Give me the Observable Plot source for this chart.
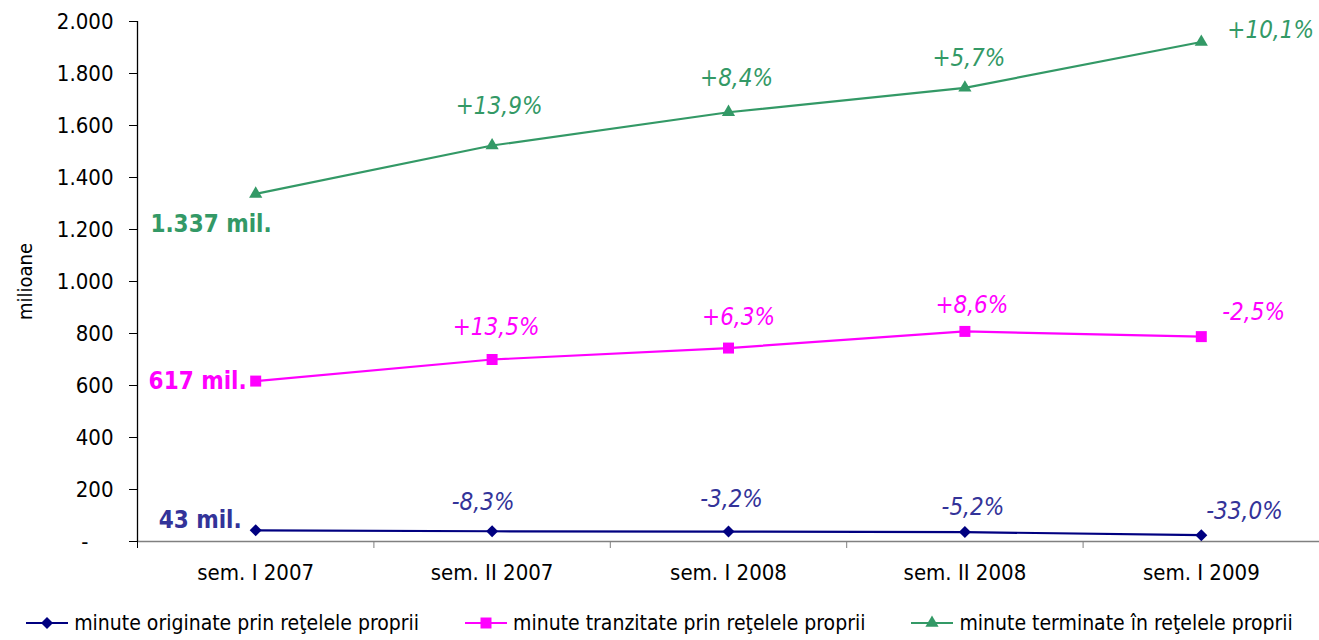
<!DOCTYPE html>
<html><head><meta charset="utf-8">
<script src="https://cdn.jsdelivr.net/npm/d3@7"></script>
<script src="https://cdn.jsdelivr.net/npm/@observablehq/plot@0.6"></script>
<style>
body{margin:0;background:#fff;font-family:"DejaVu Sans Condensed","DejaVu Sans",sans-serif;font-stretch:condensed;color:#000;}
#chart{width:1319px;height:591px;}
#legend{display:flex;justify-content:center;align-items:center;gap:46px;font-size:21px;height:49px;box-sizing:border-box;padding-top:14px;width:1319px;}
.item{display:flex;align-items:center;white-space:nowrap;}
.item svg{margin-right:6px;}
</style></head><body><div id="chart"></div><div id="legend"></div>
<script>
// ---- data ----
const periods = ["sem. I 2007", "sem. II 2007", "sem. I 2008", "sem. II 2008", "sem. I 2009"];
const seriesNames = [
  "minute originate prin reţelele proprii",
  "minute tranzitate prin reţelele proprii",
  "minute terminate în reţelele proprii"
];
const originate = [43, 39.4, 38.2, 36.2, 24.2];
const tranzitate = [617, 700, 744, 808, 788];
const terminate = [1337, 1523, 1651, 1745, 1921];
const pctOriginate = [null, "-8,3%", "-3,2%", "-5,2%", "-33,0%"];
const pctTranzitate = [null, "+13,5%", "+6,3%", "+8,6%", "-2,5%"];
const pctTerminate = [null, "+13,9%", "+8,4%", "+5,7%", "+10,1%"];
const startLabels = ["43 mil.", "617 mil.", "1.337 mil."];
const yTicks = [0, 200, 400, 600, 800, 1000, 1200, 1400, 1600, 1800, 2000];

// ---- style ----
const lineColors = ["#000080", "#FF00FF", "#339966"];
const textColors = ["#333399", "#FF00FF", "#339966"];
const symbols = ["diamond2", "square", "triangle"];
const symR = [5.4, 6.2, 4.9];
const startNudge = [[-14, -10], [-9, 0], [16, 30]];
const pctNudge = [
  [null, [-9, -29], [3, -32], [8, -25], [5, -24]],
  [null, [4, -32], [10, -31], [7, -26], [21, -24]],
  [null, [7, -39], [8, -34], [4, -29], [26, -12]]
];

const seriesValues = [originate, tranzitate, terminate];
const seriesPct = [pctOriginate, pctTranzitate, pctTerminate];
const rows = seriesValues.flatMap((vals, k) =>
  vals.map((v, i) => ({k, i, v, pct: seriesPct[k][i], name: seriesNames[k]})));

const fmtY = d => d === 0 ? "-\u2007\u2007" : d3.format(",")(d).replace(/,/g, ".");

const marks = [
  Plot.ruleY([0], {stroke: "#808080", strokeWidth: 1.3}),
  Plot.axisX([0.5, 1.5, 2.5, 3.5], {tickSize: 7, stroke: "#808080", tickFormat: () => "", label: null}),
  Plot.axisX([-0.5], {tickSize: 7, stroke: "#000", tickFormat: () => "", label: null}),
  Plot.axisX(d3.range(periods.length), {tickSize: 0, tickPadding: 23, tickFormat: i => periods[i], fill: "#000", fontSize: 22, label: null}),
  Plot.axisY(yTicks, {tickSize: 8, tickPadding: 16, tickFormat: fmtY, fill: "#000", stroke: "#000", fontSize: 22, label: null}),
  Plot.ruleX([-0.5], {y1: 0, y2: 2000, stroke: "#000", strokeWidth: 1.3}),
  Plot.text(["milioane"], {frameAnchor: "left", textAnchor: "middle", rotate: -90, dx: -112, fontSize: 20, fill: "#000"})
];

seriesValues.forEach((vals, k) => {
  const data = rows.filter(d => d.k === k);
  marks.push(Plot.line(data, {x: "i", y: "v", stroke: lineColors[k], strokeWidth: 2.2}));
  marks.push(Plot.dot(data, {x: "i", y: "v", symbol: symbols[k], r: symR[k], fill: lineColors[k], stroke: "none"}));
  marks.push(Plot.text([data[0]], {x: "i", y: "v", text: () => startLabels[k], textAnchor: "end",
    dx: startNudge[k][0], dy: startNudge[k][1], fill: textColors[k], fontSize: 24, fontWeight: "bold"}));
  data.forEach((d, i) => {
    if (!d.pct) return;
    const last = i === data.length - 1;
    marks.push(Plot.text([d], {x: "i", y: "v", text: "pct", textAnchor: last ? "start" : "middle",
      dx: pctNudge[k][i][0], dy: pctNudge[k][i][1], fill: textColors[k], fontSize: 24, fontStyle: "italic"}));
  });
});

const chart = Plot.plot({
  width: 1319, height: 591,
  marginLeft: 137, marginRight: 0, marginTop: 21, marginBottom: 50,
  style: {fontFamily: '"DejaVu Sans Condensed","DejaVu Sans",sans-serif', fontStretch: "condensed", fontSize: "22px", color: "#000", background: "#fff", overflow: "visible"},
  x: {type: "linear", domain: [-0.5, 4.5], axis: null},
  y: {domain: [0, 2000], axis: null},
  marks
});
document.getElementById("chart").appendChild(chart);

// ---- legend ----
const leg = d3.select("#legend");
seriesNames.forEach((name, k) => {
  const it = leg.append("div").attr("class", "item");
  const svg = it.append("svg").attr("width", 42).attr("height", 16);
  svg.append("line").attr("x1", 0).attr("x2", 42).attr("y1", 8).attr("y2", 8)
    .attr("stroke", lineColors[k]).attr("stroke-width", 2.2);
  const sym = {diamond2: d3.symbolDiamond2, square: d3.symbolSquare, triangle: d3.symbolTriangle}[symbols[k]];
  svg.append("path").attr("transform", "translate(21,8)")
    .attr("d", d3.symbol(sym, Math.PI * symR[k] * symR[k])())
    .attr("fill", lineColors[k]);
  it.append("span").text(name);
});
</script>
</body></html>
